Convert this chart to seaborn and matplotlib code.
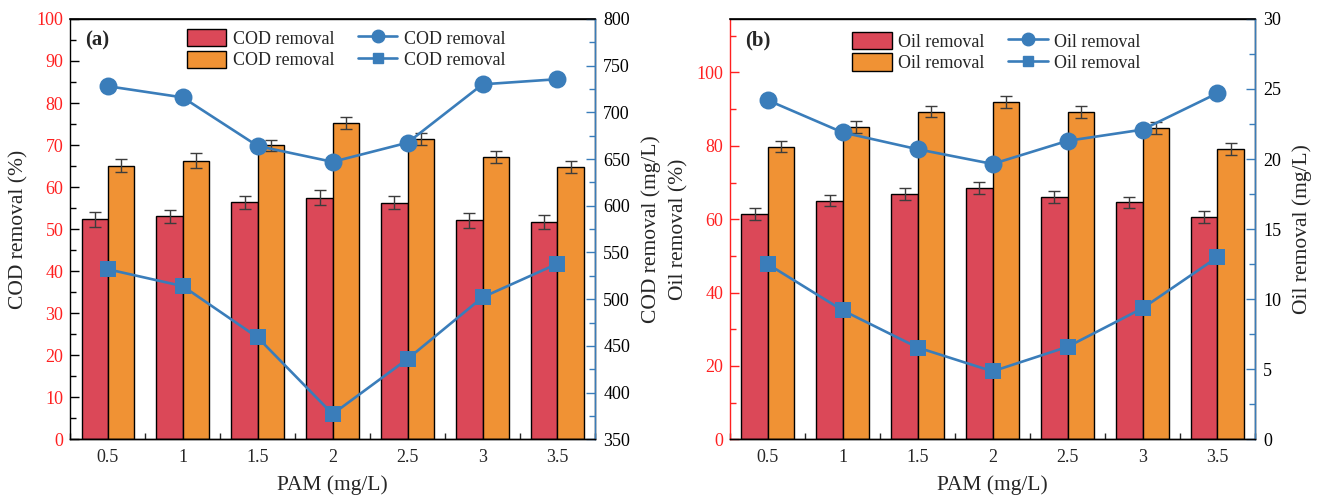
import numpy as np
import pandas as pd
import matplotlib
matplotlib.use("Agg")
import matplotlib.pyplot as plt
from matplotlib.patches import Patch
from matplotlib.lines import Line2D
from matplotlib.ticker import MultipleLocator, FixedLocator
import seaborn as sns

# ---- data ----
pam_labels = ["0.5", "1", "1.5", "2", "2.5", "3", "3.5"]

cod_removal_a = [52.3, 53.0, 56.4, 57.5, 56.3, 52.1, 51.7]
cod_removal_a_err = [1.8, 1.6, 1.5, 1.7, 1.6, 1.75, 1.6]
cod_removal_b = [65.1, 66.3, 69.9, 75.2, 71.4, 67.1, 64.8]
cod_removal_b_err = [1.5, 1.8, 1.4, 1.5, 1.5, 1.4, 1.5]
cod_conc_circle = [728, 716, 664, 647, 667.5, 730, 735.5]
cod_conc_square = [532, 514, 459, 377, 436, 502, 538]

oil_removal_a = [61.4, 65.0, 66.9, 68.6, 66.1, 64.6, 60.6]
oil_removal_a_err = [1.6, 1.5, 1.6, 1.6, 1.7, 1.55, 1.6]
oil_removal_b = [79.8, 85.1, 89.3, 92.0, 89.2, 84.8, 79.1]
oil_removal_b_err = [1.5, 1.65, 1.5, 1.6, 1.55, 1.65, 1.6]
oil_conc_circle = [24.2, 21.9, 20.7, 19.65, 21.3, 22.1, 24.7]
oil_conc_square = [12.5, 9.2, 6.55, 4.85, 6.6, 9.35, 13.0]

RED = "#DB4858"
ORANGE = "#F09234"
BLUE = "#3A7DBA"
TICK_RED = "#FF2020"

sns.set_style("ticks")
plt.rcParams["font.family"] = ["Liberation Serif", "DejaVu Serif"]
plt.rcParams["xtick.direction"] = "in"
plt.rcParams["ytick.direction"] = "in"

fig = plt.figure(figsize=(13.21, 5.01), dpi=100)


def panel(rect, tag, name, bars_a, err_a, bars_b, err_b, circ, sq,
          ylim_l, major_l, minor_l, ylim_r, major_r, minor_r, red_spine,
          legend_anchor):
    ax = fig.add_axes(rect)
    df = pd.DataFrame({
        "PAM": pam_labels * 2,
        "value": list(bars_a) + list(bars_b),
        "series": ["a"] * len(pam_labels) + ["b"] * len(pam_labels),
    })
    sns.barplot(data=df, x="PAM", y="value", hue="series", order=pam_labels,
                palette=[RED, ORANGE], width=0.7, edgecolor="black",
                linewidth=1.0, errorbar=None, legend=False, ax=ax,
                saturation=1)
    for cont, errs in zip(ax.containers, [err_a, err_b]):
        xs = [p.get_x() + p.get_width() / 2 for p in cont.patches]
        hs = [p.get_height() for p in cont.patches]
        ax.errorbar(xs, hs, yerr=errs, fmt="none", ecolor="#3c3c3c",
                    elinewidth=1.0, capsize=4.3, capthick=1.0, zorder=3)

    ax2 = ax.twinx()
    sns.pointplot(x=pam_labels, y=circ, order=pam_labels, color=BLUE,
                  markers="o", linestyles="-", errorbar=None, ax=ax2,
                  markersize=11.5, linewidth=1.9)
    sns.pointplot(x=pam_labels, y=sq, order=pam_labels, color=BLUE,
                  markers="s", linestyles="-", errorbar=None, ax=ax2,
                  markersize=9.5, linewidth=1.9)

    ax.set_xlim(-0.5, 6.5)
    ax2.set_xlim(-0.5, 6.5)
    ax.set_ylim(*ylim_l)
    ax2.set_ylim(*ylim_r)
    ax.yaxis.set_major_locator(MultipleLocator(major_l))
    ax.yaxis.set_minor_locator(MultipleLocator(minor_l))
    ax2.yaxis.set_major_locator(MultipleLocator(major_r))
    ax2.yaxis.set_minor_locator(MultipleLocator(minor_r))
    ax.xaxis.set_minor_locator(FixedLocator(np.arange(-0.5, 7.0, 1.0)))

    ax.set_xlabel("PAM (mg/L)", fontsize=15.5, labelpad=7)
    ax.set_ylabel(f"{name} removal (%)", fontsize=15.5, labelpad=6)
    ax2.set_ylabel(f"{name} removal (mg/L)", fontsize=15.5, labelpad=8)

    lcol = TICK_RED if red_spine else "black"
    ax.tick_params(axis="x", which="major", length=7, width=1, pad=7,
                   labelsize=13, top=False)
    ax.tick_params(axis="x", which="minor", length=4, width=1, top=False)
    ax.tick_params(axis="y", which="major", length=6.5, width=1, pad=5,
                   labelsize=13, colors=lcol, labelcolor=TICK_RED)
    ax.tick_params(axis="y", which="minor", length=4, width=1, colors=lcol)
    ax2.tick_params(axis="y", which="major", length=6.5, width=1, pad=6,
                    labelsize=13, colors=BLUE, labelcolor="black")
    ax2.tick_params(axis="y", which="minor", length=4, width=1, colors=BLUE)

    for a in (ax, ax2):
        for s in a.spines.values():
            s.set_visible(True)
            s.set_linewidth(1.0)
            s.set_color("black")
    ax2.spines["right"].set_color(BLUE)
    ax.spines["left"].set_color(lcol)
    ax2.spines["left"].set_visible(False)
    ax2.spines["top"].set_visible(True)
    ax2.spines["top"].set_color("black")
    ax2.spines["top"].set_linewidth(1.2)

    ax.text(0.028, 0.972, tag, transform=ax.transAxes, fontsize=15,
            fontweight="bold", va="top", ha="left")

    lab = f"{name} removal"
    handles = [
        Patch(facecolor=RED, edgecolor="black", linewidth=1.0),
        Patch(facecolor=ORANGE, edgecolor="black", linewidth=1.0),
        Line2D([], [], color=BLUE, marker="o", markersize=9, linewidth=1.9),
        Line2D([], [], color=BLUE, marker="s", markersize=7.5, linewidth=1.9),
    ]
    ax2.legend(handles, [lab] * 4, ncol=2, loc="upper left",
               bbox_to_anchor=legend_anchor, frameon=False, fontsize=13,
               handlelength=2.2, handleheight=1.1, handletextpad=0.35,
               columnspacing=1.3, labelspacing=0.15, borderpad=0,
               borderaxespad=0)
    return ax, ax2


panel([0.0532, 0.1232, 0.3972, 0.839], "(a)", "COD",
      cod_removal_a, cod_removal_a_err, cod_removal_b, cod_removal_b_err,
      cod_conc_circle, cod_conc_square,
      (0, 100), 10, 5, (350, 800), 50, 25, red_spine=False,
      legend_anchor=(0.222, 0.976))

panel([0.5528, 0.1232, 0.3972, 0.839], "(b)", "Oil",
      oil_removal_a, oil_removal_a_err, oil_removal_b, oil_removal_b_err,
      oil_conc_circle, oil_conc_square,
      (0, 114.6), 20, 10, (0, 30), 5, 2.5, red_spine=True,
      legend_anchor=(0.232, 0.969))

fig.savefig("out.png", dpi=100)
